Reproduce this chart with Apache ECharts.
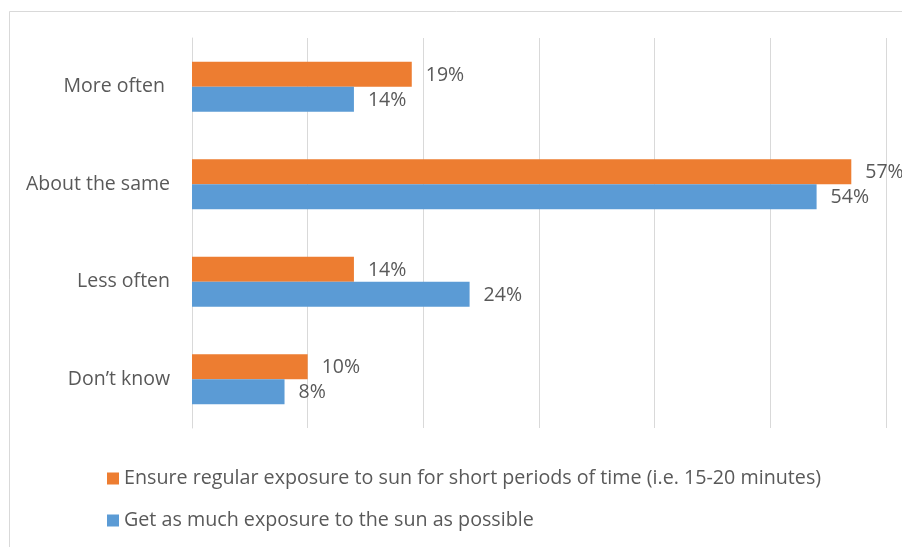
<!DOCTYPE html>
<html>
<head>
<meta charset="utf-8">
<script src="https://cdn.jsdelivr.net/npm/echarts@6/dist/echarts.min.js"></script>
<style>
html,body{margin:0;padding:0;background:#fff;}
#chart{width:902px;height:547px;}
</style>
</head>
<body>
<div id="chart"></div>
<script>
const categories = ["More often ", "About the same", "Less often", "Don\u2019t know"];
const seriesNames = [
  "Ensure regular exposure to sun for short periods of time (i.e. 15-20 minutes)",
  "Get as much exposure to the sun as possible"
];
const ensureRegular = [19, 57, 14, 10];
const asMuchAsPossible = [14, 54, 24, 8];
const xTicks = [0, 10, 20, 30, 40, 50, 60];

const FONT = "'Open Sans', sans-serif";
const TEXT = "#595959";
const chart = echarts.init(document.getElementById('chart'), null, {renderer: 'canvas'});

const labelCfg = {
  show: true, position: 'right', distance: 14, offset: [0, 1],
  formatter: p => p.value + '%',
  color: TEXT, fontFamily: FONT, fontSize: 19.5
};

chart.setOption({
  animation: false,
  backgroundColor: '#fff',
  graphic: [{
    type: 'rect', silent: true,
    shape: {x: 9.5, y: 11.5, width: 1200, height: 1200},
    style: {fill: 'none', stroke: '#d9d9d9', lineWidth: 1}
  }],
  grid: {left: 192, right: 16, top: 38, bottom: 119, containLabel: false},
  xAxis: {
    type: 'value', min: xTicks[0], max: xTicks[xTicks.length - 1], interval: 10,
    axisLabel: {show: false}, axisTick: {show: false}, axisLine: {show: false},
    splitLine: {show: true, lineStyle: {color: '#d9d9d9', width: 1}}
  },
  yAxis: {
    type: 'category', data: categories, inverse: true,
    axisTick: {show: false},
    axisLine: {show: true, lineStyle: {color: '#d9d9d9', width: 1}},
    axisLabel: {color: TEXT, fontFamily: FONT, fontSize: 19.5, margin: 22}
  },
  legend: {
    orient: 'vertical', left: 102, top: 462,
    itemWidth: 12, itemHeight: 12, itemGap: 19, icon: 'rect',
    data: seriesNames,
    textStyle: {color: TEXT, fontFamily: FONT, fontSize: 19.7, lineHeight: 23}
  },
  series: [
    {name: seriesNames[0], type: 'bar', data: ensureRegular, barWidth: 25, barGap: '0%',
     itemStyle: {color: '#ed7d31'}, label: labelCfg},
    {name: seriesNames[1], type: 'bar', data: asMuchAsPossible, barWidth: 25, barGap: '0%',
     itemStyle: {color: '#5b9bd5'}, label: labelCfg}
  ]
});
</script>
</body>
</html>
